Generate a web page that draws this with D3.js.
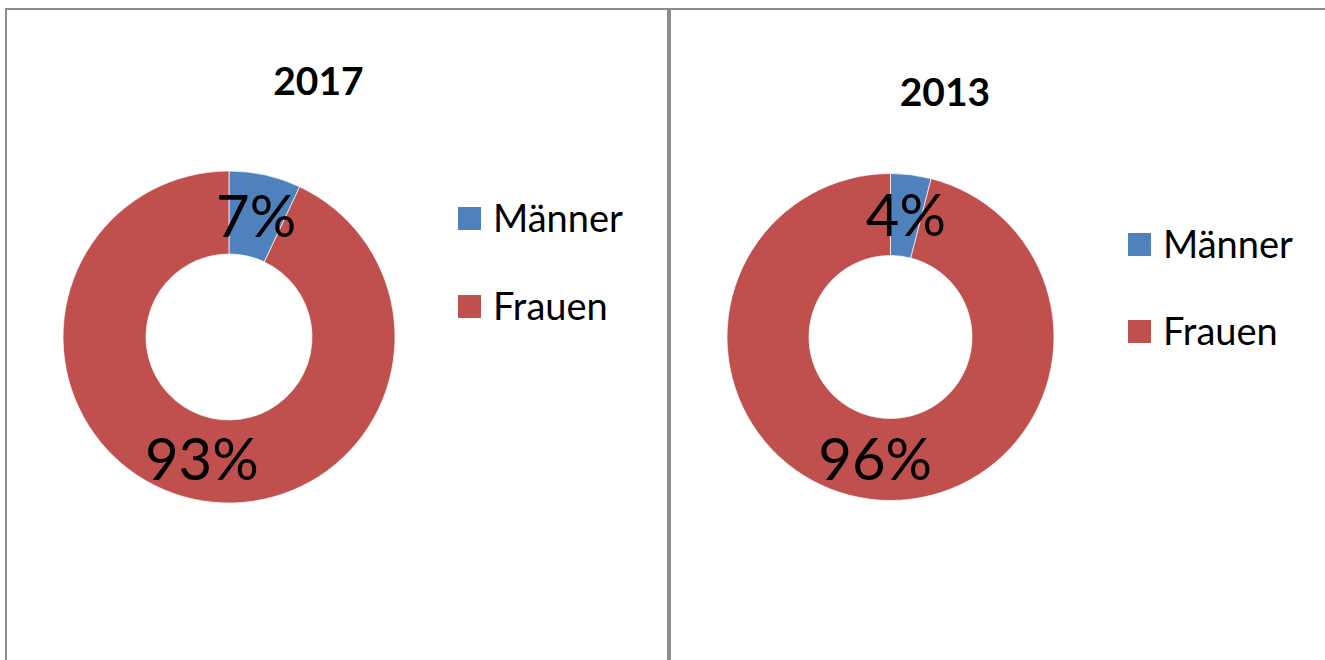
<!DOCTYPE html>
<html>
<head>
<meta charset="utf-8">
<script src="https://cdn.jsdelivr.net/npm/d3@7"></script>
<style>
  body { margin: 0; background: #fff; }
  svg { display: block; font-family: Lato, "Open Sans", sans-serif; }
</style>
</head>
<body>
<div id="chart"></div>
<script>
// data
var years = ["2017", "2013"];
var categories = ["Männer", "Frauen"];
var values2017 = [7, 93];
var values2013 = [4, 96];
var colors = ["#4f81bd", "#c0504d"];

// layout of each panel (positions only)
var panels = [
  {x: 6, w: 662, cx: 229, cy: 337, rOut: 166, rIn: 83, titleX: 318.5, titleY: 95,
   legX: 458, legY: 207, legStep: 88},
  {x: 670, w: 700, cx: 890.5, cy: 337, rOut: 163.5, rIn: 81.5, titleX: 945, titleY: 106,
   legX: 1128, legY: 233, legStep: 87}
];
var series = [values2017, values2013];

var W = 1325, H = 660;
var svg = d3.select("#chart").append("svg")
    .attr("width", W)
    .attr("height", H);

var color = d3.scaleOrdinal().domain(categories).range(colors);
var pie = d3.pie().sort(null).value(function(d) { return d.value; });

for (var i = 0; i < panels.length; ++i) {
    var p = panels[i];
    var data = categories.map(function(c, j) { return {cat: c, value: series[i][j]}; });

    // frame
    svg.append("rect")
        .attr("x", p.x)
        .attr("y", 9)
        .attr("width", p.w)
        .attr("height", H + 20)
        .attr("fill", "none")
        .attr("stroke", "#8c8c8c")
        .attr("stroke-width", 2);

    svg.append("text")
        .attr("x", p.titleX)
        .attr("y", p.titleY)
        .attr("text-anchor", "middle")
        .attr("font-weight", "bold")
        .attr("font-size", 39)
        .attr("fill", "#000")
        .text(years[i]);

    var arc = d3.arc().innerRadius(p.rIn).outerRadius(p.rOut);
    var g = svg.append("g").attr("transform", "translate(" + p.cx + "," + p.cy + ")");
    var arcs = pie(data);

    g.selectAll("path")
        .data(arcs)
        .enter().append("path")
        .attr("d", arc)
        .attr("fill", function(d) { return color(d.data.cat); })
        .attr("stroke", "#fff")
        .attr("stroke-width", 0.7);

    g.selectAll("text")
        .data(arcs)
        .enter().append("text")
        .attr("x", function(d) { return arc.centroid(d)[0]; })
        .attr("y", function(d) { return arc.centroid(d)[1] + 21; })
        .attr("text-anchor", "middle")
        .attr("font-size", 58)
        .attr("fill", "#000")
        .text(function(d) { return d.data.value + "%"; });

    var leg = svg.append("g");
    leg.selectAll("rect")
        .data(categories)
        .enter().append("rect")
        .attr("x", p.legX)
        .attr("y", function(d, j) { return p.legY + j * p.legStep; })
        .attr("width", 23)
        .attr("height", 23)
        .attr("fill", function(d) { return color(d); });
    leg.selectAll("text")
        .data(categories)
        .enter().append("text")
        .attr("x", p.legX + 35)
        .attr("y", function(d, j) { return p.legY + 25 + j * p.legStep; })
        .attr("font-size", 38)
        .attr("fill", "#000")
        .text(function(d) { return d; });
}
</script>
</body>
</html>
